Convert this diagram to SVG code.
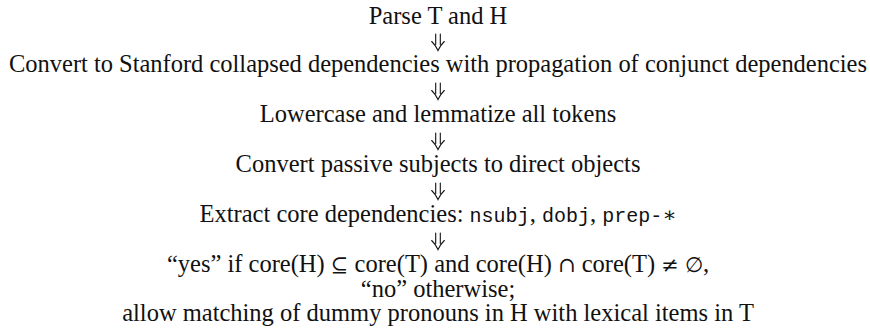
<svg xmlns="http://www.w3.org/2000/svg" xmlns:xlink="http://www.w3.org/1999/xlink" width="870" height="334" viewBox="0 0 870 334">
  <style>
    .step { font-family: "Liberation Serif", "DejaVu Serif", serif; font-size: 24.5px; fill: #111; text-anchor: middle; }
    .tt { font-family: "Liberation Mono", "DejaVu Sans Mono", monospace; font-size: 20px; }
    .math { font-family: "DejaVu Serif", "Liberation Serif", serif; font-size: 21px; }
    .arrow { fill: none; stroke: #111; stroke-width: 1.1; stroke-linecap: round; }
  </style>
  <defs>
    <!-- double down arrow, origin at the text baseline -->
    <g id="dArrow" class="arrow">
      <path d="M-2.3,-15 V-4.5 M2.3,-15 V-4.5"/>
      <path d="M-6.3,-7.5 Q-2.2,-3.6 0,1.5 Q2.2,-3.6 6.3,-7.5"/>
    </g>
  </defs>
  <rect width="870" height="334" fill="#fff"/>

  <g id="connectors">
    <use xlink:href="#dArrow" x="438" y="49"/>
    <use xlink:href="#dArrow" x="438" y="98"/>
    <use xlink:href="#dArrow" x="438" y="148"/>
    <use xlink:href="#dArrow" x="438" y="198"/>
    <use xlink:href="#dArrow" x="438" y="248"/>
  </g>

  <g id="parse">
    <text class="step" x="438" y="24">Parse T and H</text>
  </g>
  <g id="convert-stanford">
    <text class="step" x="438" y="72" textLength="858">Convert to Stanford collapsed dependencies with propagation of conjunct dependencies</text>
  </g>
  <g id="lowercase">
    <text class="step" x="438" y="122">Lowercase and lemmatize all tokens</text>
  </g>
  <g id="passive">
    <text class="step" x="438" y="172">Convert passive subjects to direct objects</text>
  </g>
  <g id="extract">
    <text class="step" x="438" y="222">Extract core dependencies: <tspan class="tt">nsubj</tspan>, <tspan class="tt">dobj</tspan>, <tspan class="tt">prep-</tspan><tspan class="math">∗</tspan></text>
  </g>
  <g id="decision">
    <text class="step" x="438" y="272">“yes” if core(H) <tspan class="math">⊆</tspan> core(T) and core(H) <tspan class="math">∩</tspan> core(T) <tspan class="math">≠</tspan> <tspan class="math">∅</tspan>,</text>
    <text class="step" x="438" y="297">“no” otherwise;</text>
    <text class="step" x="438" y="321">allow matching of dummy pronouns in H with lexical items in T</text>
  </g>
</svg>
